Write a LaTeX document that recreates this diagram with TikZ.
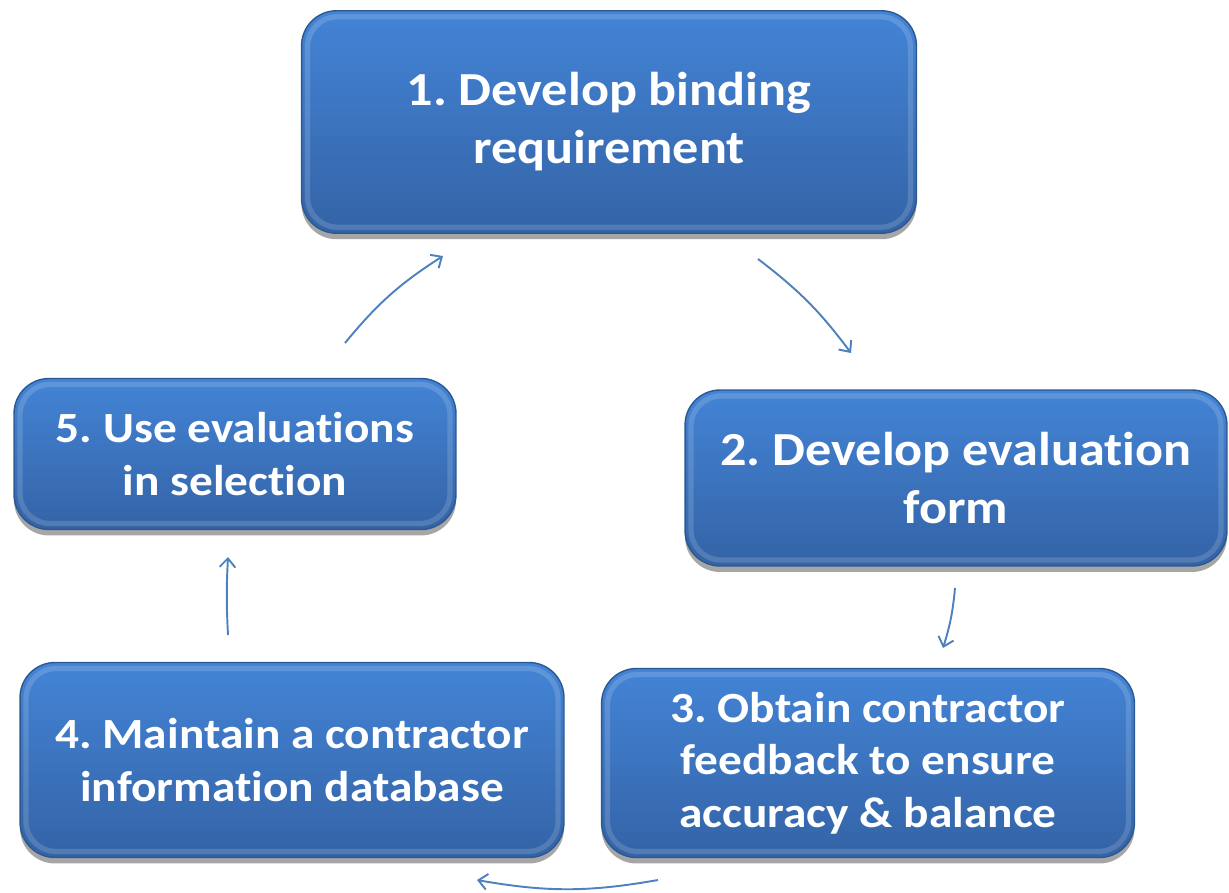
\documentclass[tikz,border=0pt]{standalone}
\usepackage{fontspec}
\setmainfont{Carlito}[Ligatures=NoCommon, FakeStretch=1.1]
\frenchspacing
\usetikzlibrary{arrows.meta,shadows}
\definecolor{boxtop}{HTML}{4384D6}
\definecolor{boxbot}{HTML}{3463A6}
\definecolor{boxedge}{HTML}{2B5890}
\definecolor{arrowblue}{HTML}{4F81BD}
\tikzset{
  stepbox/.style={rounded corners=0.7cm, top color=boxtop, bottom color=boxbot,
    draw=boxedge, line width=0.8pt, text=white, align=center, inner sep=0pt,
    drop shadow={shadow xshift=0pt, shadow yshift=-0.12cm, opacity=0.35, fill=black},
    path picture={\draw[white, opacity=0.15, line width=3pt, rounded corners=0.6cm]
      ([shift={(0.12cm,-0.12cm)}]path picture bounding box.north west) rectangle
      ([shift={(-0.12cm,0.12cm)}]path picture bounding box.south east);}},
  bigtext/.style={font=\fontsize{27}{33}\selectfont\bfseries},
  smalltext/.style={font=\fontsize{24.5}{30}\selectfont\bfseries},
  cyc/.style={draw=arrowblue, line width=1.1pt, -{Straight Barb[length=5pt,width=9pt]}}
}
\begin{document}
\begin{tikzpicture}[x=0.02cm,y=-0.02cm]
\useasboundingbox (0,0) rectangle (1229,892);
\node[stepbox, bigtext, minimum width=12.3cm, minimum height=4.45cm] (b1) at (609,122) {1. Develop binding\\requirement};
\node[stepbox, bigtext, minimum width=10.84cm, minimum height=3.52cm] (b2) at (956,478) {2. Develop evaluation\\form};
\node[stepbox, smalltext, minimum width=10.66cm, minimum height=3.78cm] (b3) at (868,763) {3. Obtain contractor\\feedback to ensure\\accuracy \& balance};
\node[stepbox, smalltext, minimum width=10.88cm, minimum height=3.9cm] (b4) at (292,760) {4. Maintain a contractor\\information database};
\node[stepbox, smalltext, minimum width=8.84cm, minimum height=3.02cm] (b5) at (235,454) {5. Use evaluations\\in selection};

\coordinate (a1s) at (345,343); \coordinate (a1e) at (443,256);
\coordinate (a2s) at (758,259); \coordinate (a2e) at (851,353);
\coordinate (a3s) at (955,588); \coordinate (a3e) at (943,648);
\coordinate (a4s) at (658,880); \coordinate (a4e) at (477,880);
\coordinate (a5s) at (228,635); \coordinate (a5e) at (228,557);

\draw[cyc] (a1s) to[bend left=9] (a1e);
\draw[cyc] (a2s) to[bend left=8] (a2e);
\draw[cyc] (a3s) to[bend left=6] (a3e);
\draw[cyc] (a4s) to[bend left=10] (a4e);
\draw[cyc] (a5s) to[bend left=3] (a5e);
\end{tikzpicture}
\end{document}
